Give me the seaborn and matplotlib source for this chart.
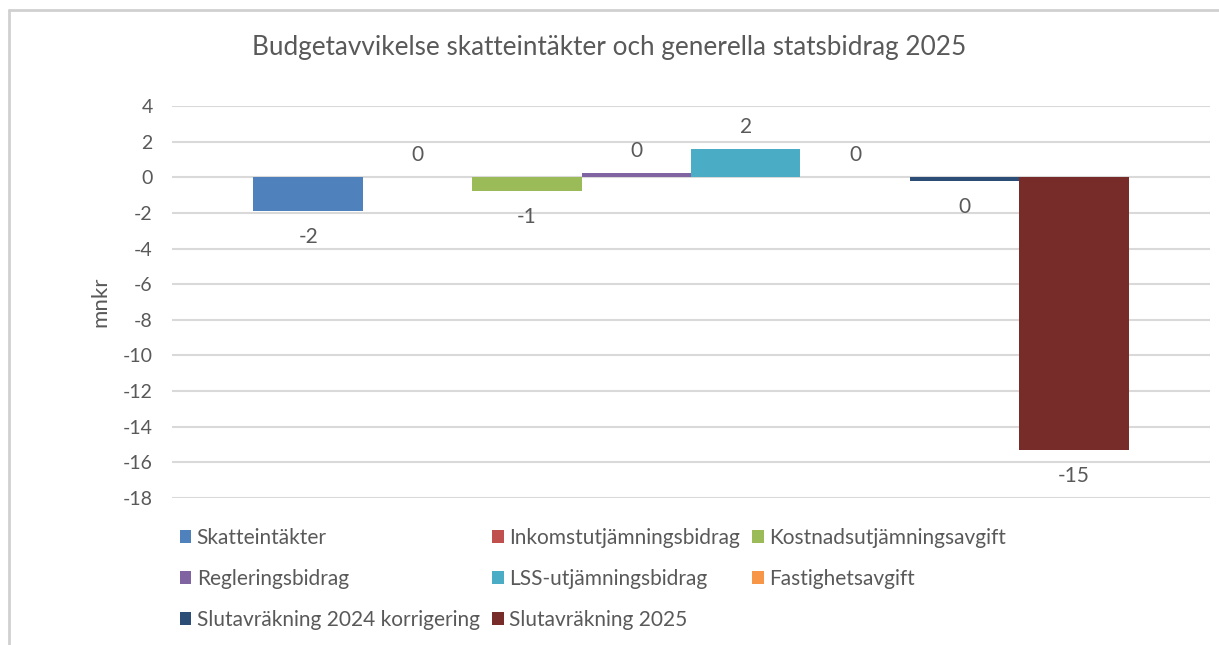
import matplotlib
matplotlib.use("Agg")
import matplotlib.pyplot as plt
from matplotlib.patches import Patch
from matplotlib.lines import Line2D
import seaborn as sns
import pandas as pd

# ---- data ----
series = ["Skatteintäkter", "Inkomstutjämningsbidrag", "Kostnadsutjämningsavgift",
          "Regleringsbidrag", "LSS-utjämningsbidrag", "Fastighetsavgift",
          "Slutavräkning 2024 korrigering", "Slutavräkning 2025"]
values = [-1.92, 0.0, -0.75, 0.25, 1.56, 0.0, -0.22, -15.3]
colors = ["#4F81BD", "#C0504D", "#9BBB59", "#8064A2", "#4BACC6", "#F79646", "#2C4D75", "#772C2A"]
category = [""]
title = "Budgetavvikelse skatteintäkter och generella statsbidrag 2025"
ylabel = "mnkr"
yticks = [4, 2, 0, -2, -4, -6, -8, -10, -12, -14, -16, -18]

df = pd.DataFrame({"cat": category * len(series), "serie": series, "värde": values})

sns.set_theme(style="white")
plt.rcParams["font.family"] = ["Lato", "DejaVu Sans"]
txt = "#595959"
grid = "#D9D9D9"

W, H = 1219, 645
fig = plt.figure(figsize=(W / 100, H / 100), dpi=100)
ax = fig.add_axes([172 / W, 1 - 498 / H, (1210 - 172) / W, (498 - 106) / H])

sns.barplot(data=df, x="cat", y="värde", hue="serie", hue_order=series,
            palette=colors, saturation=1, width=0.843, dodge=True,
            legend=False, ax=ax, errorbar=None, linewidth=0)

ax.set_ylim(min(yticks), max(yticks))
ax.set_xlim(-0.5, 0.5)
ax.set_yticks(yticks)
ax.set_yticklabels([str(t) for t in yticks])
ax.yaxis.grid(True, color=grid, linewidth=1.5)
ax.set_axisbelow(True)
for s in ax.spines.values():
    s.set_visible(False)
ax.tick_params(axis="y", length=0, pad=14, labelsize=14, labelcolor=txt)
ax.tick_params(axis="x", length=0, labelbottom=False)
ax.set_xlabel("")
ax.set_ylabel(ylabel, fontsize=16, color=txt, labelpad=9)

# data labels
for cont in ax.containers:
    for bar, v in zip(cont, cont.datavalues):
        xc = bar.get_x() + bar.get_width() / 2
        end = bar.get_y() + bar.get_height()
        off = 22 if v >= 0 else -26
        ax.annotate(f"{round(v):.0f}", (xc, end), xytext=(0, off),
                    textcoords="offset pixels", ha="center", va="center",
                    fontsize=15, color=txt)

fig.text(0.5, 1 - 47 / H, title, ha="center", va="center", fontsize=18.8, color=txt)

# legend, row-wise order in 3 columns
handles = [Patch(facecolor=c, edgecolor="none") for c in colors]
order = [0, 3, 6, 1, 4, 7, 2, 5]
leg = fig.legend([handles[i] for i in order], [series[i] for i in order],
                 ncol=3, loc="upper left", bbox_to_anchor=(180 / W, 1 - 528 / H),
                 frameon=False, fontsize=15, handlelength=0.55, handleheight=0.55,
                 handletextpad=0.25, columnspacing=0.6, labelspacing=1.0, borderpad=0,
                 borderaxespad=0)
for t in leg.get_texts():
    t.set_color(txt)

# chart frame
fig.add_artist(Line2D([9 / W, 1], [1 - 10 / H, 1 - 10 / H], transform=fig.transFigure,
                      color="#D0D0D0", linewidth=2))
fig.add_artist(Line2D([9 / W, 9 / W], [0, 1 - 10 / H], transform=fig.transFigure,
                      color="#D0D0D0", linewidth=2))

fig.savefig("out.png", dpi=100, facecolor="white")
